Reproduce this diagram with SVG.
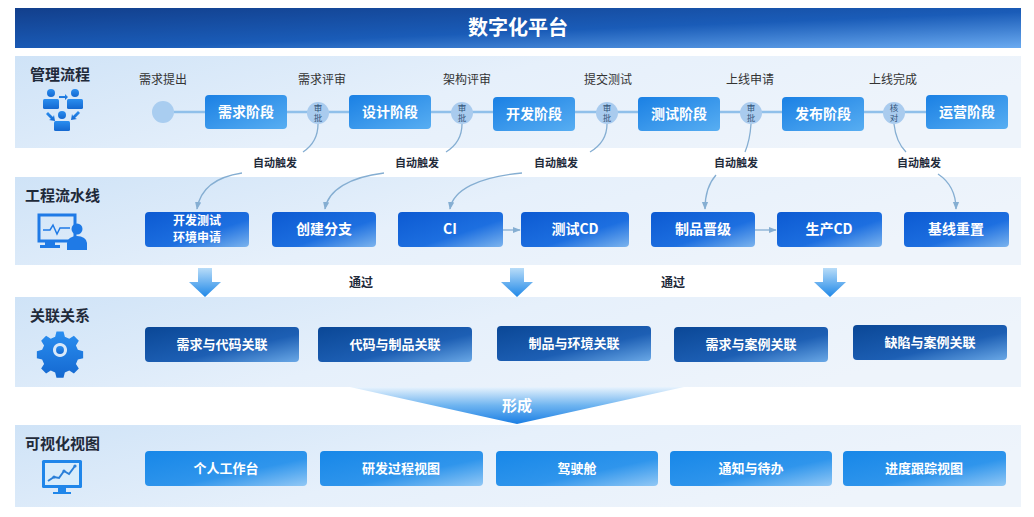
<svg xmlns="http://www.w3.org/2000/svg" width="1034" height="517" viewBox="0 0 1034 517">
<style>
.t{font-family:"Noto Sans CJK SC","Liberation Sans",sans-serif}
.sec{font-size:15px;font-weight:bold;fill:#1f2a3a}
.lbl{font-size:12px;fill:#333;text-anchor:middle}
.bt{font-size:14px;font-weight:bold;fill:#fff;text-anchor:middle}
.bt2{font-size:13px;font-weight:bold;fill:#fff;text-anchor:middle}
.bt3{font-size:12px;font-weight:bold;fill:#fff;text-anchor:middle}
.auto{font-size:11px;font-weight:bold;fill:#1f2a3a;text-anchor:middle}
.ap{font-size:8.5px;fill:#33557a;text-anchor:middle}
.conn{fill:none;stroke:#85aed2;stroke-width:1.3}
.hl{stroke:#90c0ea;stroke-width:2.5}
</style>
<defs>
<linearGradient id="gHead" x1="0" y1="0" x2="1" y2="1">
<stop offset="0" stop-color="#123f8c"/><stop offset="0.55" stop-color="#1a5cb8"/><stop offset="1" stop-color="#6aaaf0"/>
</linearGradient>
<linearGradient id="gBand" x1="0" y1="0" x2="1" y2="0.3">
<stop offset="0" stop-color="#cfe3f7"/><stop offset="0.5" stop-color="#e6f0fb"/><stop offset="1" stop-color="#eef4fb"/>
</linearGradient>
<linearGradient id="gS" x1="0" y1="0" x2="1" y2="1">
<stop offset="0" stop-color="#1a80e4"/><stop offset="1" stop-color="#58aef2"/>
</linearGradient>
<linearGradient id="gE" x1="0" y1="0" x2="1" y2="1">
<stop offset="0" stop-color="#0c5ad2"/><stop offset="0.6" stop-color="#1d6fe0"/><stop offset="1" stop-color="#7cb4ee"/>
</linearGradient>
<linearGradient id="gR" x1="0" y1="0" x2="1" y2="1">
<stop offset="0" stop-color="#0a4796"/><stop offset="0.6" stop-color="#1d5fb4"/><stop offset="1" stop-color="#6aa8e6"/>
</linearGradient>
<linearGradient id="gV" x1="0" y1="0" x2="1" y2="1">
<stop offset="0" stop-color="#1787e8"/><stop offset="0.6" stop-color="#2f95ec"/><stop offset="1" stop-color="#92c8f5"/>
</linearGradient>
<linearGradient id="gArr" x1="0" y1="0" x2="0" y2="1">
<stop offset="0" stop-color="#b8dcf8"/><stop offset="1" stop-color="#1f88e8"/>
</linearGradient>
<linearGradient id="gFun" x1="0" y1="0" x2="0" y2="1">
<stop offset="0" stop-color="#e8f3fd"/><stop offset="0.5" stop-color="#6eb4f0"/><stop offset="1" stop-color="#1a7ee4"/>
</linearGradient>
<linearGradient id="gIcon" x1="0" y1="0" x2="0" y2="1">
<stop offset="0" stop-color="#2a8ef0"/><stop offset="1" stop-color="#1468d0"/>
</linearGradient>
<marker id="ah" viewBox="0 0 10 10" refX="9" refY="5" markerWidth="6" markerHeight="6" orient="auto">
<path d="M0,1 L10,5 L0,9 Z" fill="#85aed2"/>
</marker>
</defs>

<rect width="1034" height="517" fill="#ffffff"/>

<!-- header -->
<g id="header">
<rect x="15" y="8" width="1006" height="40" fill="url(#gHead)"/>
<text class="t" x="518" y="35" font-size="20" font-weight="bold" fill="#fff" text-anchor="middle">数字化平台</text>
</g>

<!-- bands -->
<g id="bands">
<rect x="15" y="56" width="1006" height="92" fill="url(#gBand)"/>
<rect x="15" y="177" width="1006" height="88" fill="url(#gBand)"/>
<rect x="15" y="297" width="1006" height="90" fill="url(#gBand)"/>
<rect x="15" y="425" width="1006" height="82" fill="url(#gBand)"/>
</g>

<!-- section labels and icons -->
<g id="sec-manage">
<text class="t sec" x="30" y="80">管理流程</text>
<g fill="url(#gIcon)">
<circle cx="51" cy="93" r="4"/><rect x="43" y="99" width="16" height="10" rx="1.5"/>
<circle cx="75" cy="93" r="4"/><rect x="67" y="99" width="16" height="10" rx="1.5"/>
<circle cx="62" cy="115" r="4"/><rect x="54" y="121" width="16" height="10" rx="1.5"/>
<path d="M59,96 h6 v-2 l3,3 l-3,3 v-2 h-6 z"/>
<path d="M46,114 l2,-2 l5,5 l1,-2 l1,6 l-6,-1 l2,-1 z"/>
<path d="M80,113 l-2,-2 l-5,5 l-1,-2 l-1,6 l6,-1 l-2,-1 z"/>
</g>
</g>

<g id="sec-pipeline">
<text class="t sec" x="25" y="201">工程流水线</text>
<g>
<rect x="39" y="215" width="36" height="26" fill="none" stroke="#1f7ae6" stroke-width="3"/>
<rect x="45" y="241" width="10" height="5" fill="#1f7ae6"/>
<rect x="40" y="245" width="20" height="3" fill="#1f7ae6"/>
<polyline points="43,230 50,230 53,225 57,234 60,228 70,228" fill="none" stroke="#1f7ae6" stroke-width="1.5"/>
<circle cx="77" cy="229" r="5.5" fill="#1f7ae6"/>
<path d="M67,250 v-7 a10,7 0 0 1 20,0 v7 z" fill="#1f7ae6"/>
</g>
</g>

<g id="sec-relation">
<text class="t sec" x="30" y="321">关联关系</text>
<g transform="translate(60,350) scale(0.88)">
<path fill="url(#gIcon)" fill-rule="evenodd" d="M-4,-21 h8 l1.5,6 l5,2.2 l5.3,-3.3 l5.6,5.6 l-3.3,5.3 l2.2,5 l6,1.5 v8 l-6,1.5 l-2.2,5 l3.3,5.3 l-5.6,5.6 l-5.3,-3.3 l-5,2.2 l-1.5,6 h-8 l-1.5,-6 l-5,-2.2 l-5.3,3.3 l-5.6,-5.6 l3.3,-5.3 l-2.2,-5 l-6,-1.5 v-8 l6,-1.5 l2.2,-5 l-3.3,-5.3 l5.6,-5.6 l5.3,3.3 l5,-2.2 z M0,-8 a8,8 0 1 0 0.01,0 z"/>
<circle r="4.5" fill="url(#gIcon)"/>
</g>
</g>

<g id="sec-visual">
<text class="t sec" x="25" y="449">可视化视图</text>
<g>
<rect x="42" y="460" width="40" height="28" rx="1.5" fill="#1f86ea"/>
<rect x="45" y="463" width="34" height="22" fill="#d8ecfb"/>
<polyline points="48,481 54,477 59,478 64,471 69,474 75,466" fill="none" stroke="#2a7fd8" stroke-width="2"/>
<circle cx="54" cy="477" r="1.6" fill="#2a7fd8"/><circle cx="64" cy="471" r="1.6" fill="#2a7fd8"/><circle cx="75" cy="466" r="1.6" fill="#2a7fd8"/>
<rect x="58" y="488" width="8" height="4" fill="#1f86ea"/>
<rect x="53" y="492" width="18" height="2" fill="#1f86ea"/>
</g>
</g>

<!-- connectors -->
<g id="connectors">
<line class="hl" x1="174" y1="112" x2="205" y2="112"/>
<line class="hl" x1="287" y1="112" x2="349" y2="112"/>
<line class="hl" x1="431" y1="112" x2="493" y2="112"/>
<line class="hl" x1="575" y1="112" x2="638" y2="112"/>
<line class="hl" x1="720" y1="112" x2="782" y2="112"/>
<line class="hl" x1="863" y1="112" x2="926" y2="112"/>

<path class="conn" d="M318,124 Q318,142 303,152"/>
<path class="conn" d="M242,173 C215,177 200,190 197,209" marker-end="url(#ah)"/>
<path class="conn" d="M462,124 Q462,142 446,152"/>
<path class="conn" d="M384,173 C350,177 328,190 325,209" marker-end="url(#ah)"/>
<path class="conn" d="M607,124 Q607,142 590,152"/>
<path class="conn" d="M522,173 C478,177 453,190 450,209" marker-end="url(#ah)"/>
<path class="conn" d="M751,124 Q750,140 745,152"/>
<path class="conn" d="M716,175 C708,184 705,195 705,209" marker-end="url(#ah)"/>
<path class="conn" d="M894,124 Q896,142 906,152"/>
<path class="conn" d="M938,174 C950,182 956,195 956,209" marker-end="url(#ah)"/>

<line class="conn" x1="503" y1="230" x2="520" y2="230" marker-end="url(#ah)"/>
<line class="conn" x1="755" y1="230" x2="776" y2="230" marker-end="url(#ah)"/>

<path d="M198,268 H212 V282 H221 L205,297 L189,282 H198 Z" fill="url(#gArr)"/>
<path d="M510,268 H524 V282 H533 L517,297 L501,282 H510 Z" fill="url(#gArr)"/>
<path d="M823,268 H837 V282 H846 L830,297 L814,282 H823 Z" fill="url(#gArr)"/>
<text class="t" x="361" y="287" font-size="12" font-weight="bold" fill="#1f2a3a" text-anchor="middle">通过</text>
<text class="t" x="673" y="287" font-size="12" font-weight="bold" fill="#1f2a3a" text-anchor="middle">通过</text>

<path d="M350,387 L684,387 L517,424 Z" fill="url(#gFun)"/>
<text class="t" x="517" y="411" font-size="15" font-weight="bold" fill="#fff" text-anchor="middle">形成</text>
</g>

<!-- row 1 -->
<g id="n-start"><circle cx="163" cy="112" r="11" fill="#a9cdf0"/><text class="t lbl" x="163" y="84">需求提出</text></g>
<g id="n-req"><rect x="205" y="95" width="82" height="34" rx="4" fill="url(#gS)"/><text class="t bt" x="246" y="117">需求阶段</text></g>
<g id="n-ap1"><circle cx="318" cy="113" r="11" fill="#a9cbee"/><text class="t ap" x="318" y="111">审</text><text class="t ap" x="318" y="121">批</text><text class="t lbl" x="322" y="84">需求评审</text></g>
<g id="n-design"><rect x="349" y="95" width="82" height="34" rx="4" fill="url(#gS)"/><text class="t bt" x="390" y="117">设计阶段</text></g>
<g id="n-ap2"><circle cx="462" cy="113" r="11" fill="#a9cbee"/><text class="t ap" x="462" y="111">审</text><text class="t ap" x="462" y="121">批</text><text class="t lbl" x="467" y="84">架构评审</text></g>
<g id="n-dev"><rect x="493" y="97" width="82" height="34" rx="4" fill="url(#gS)"/><text class="t bt" x="534" y="119">开发阶段</text></g>
<g id="n-ap3"><circle cx="607" cy="113" r="11" fill="#a9cbee"/><text class="t ap" x="607" y="111">审</text><text class="t ap" x="607" y="121">批</text><text class="t lbl" x="608" y="84">提交测试</text></g>
<g id="n-test"><rect x="638" y="97" width="82" height="34" rx="4" fill="url(#gS)"/><text class="t bt" x="679" y="119">测试阶段</text></g>
<g id="n-ap4"><circle cx="751" cy="113" r="11" fill="#a9cbee"/><text class="t ap" x="751" y="111">审</text><text class="t ap" x="751" y="121">批</text><text class="t lbl" x="750" y="84">上线申请</text></g>
<g id="n-rel"><rect x="782" y="97" width="82" height="34" rx="4" fill="url(#gS)"/><text class="t bt" x="823" y="119">发布阶段</text></g>
<g id="n-ap5"><circle cx="894" cy="113" r="11" fill="#a9cbee"/><text class="t ap" x="894" y="111">核</text><text class="t ap" x="894" y="121">对</text><text class="t lbl" x="893" y="84">上线完成</text></g>
<g id="n-ops"><rect x="926" y="95" width="82" height="34" rx="4" fill="url(#gS)"/><text class="t bt" x="967" y="117">运营阶段</text></g>

<g id="auto-labels">
<text class="t auto" x="275" y="167">自动触发</text>
<text class="t auto" x="417" y="167">自动触发</text>
<text class="t auto" x="556" y="167">自动触发</text>
<text class="t auto" x="736" y="167">自动触发</text>
<text class="t auto" x="919" y="167">自动触发</text>
</g>

<!-- row 2 -->
<g id="n-env"><rect x="145" y="212" width="104" height="35" rx="4" fill="url(#gE)"/><text class="t bt3" x="197" y="225">开发测试</text><text class="t bt3" x="197" y="242">环境申请</text></g>
<g id="n-branch"><rect x="272" y="212" width="104" height="35" rx="4" fill="url(#gE)"/><text class="t bt" x="324" y="234">创建分支</text></g>
<g id="n-ci"><rect x="398" y="212" width="105" height="35" rx="4" fill="url(#gE)"/><text class="t bt" x="450" y="234">CI</text></g>
<g id="n-tcd"><rect x="521" y="212" width="108" height="35" rx="4" fill="url(#gE)"/><text class="t bt" x="575" y="234">测试CD</text></g>
<g id="n-promote"><rect x="651" y="212" width="104" height="35" rx="4" fill="url(#gE)"/><text class="t bt" x="703" y="234">制品晋级</text></g>
<g id="n-pcd"><rect x="777" y="212" width="105" height="35" rx="4" fill="url(#gE)"/><text class="t bt" x="829" y="234">生产CD</text></g>
<g id="n-reset"><rect x="904" y="212" width="105" height="35" rx="4" fill="url(#gE)"/><text class="t bt" x="956" y="234">基线重置</text></g>

<!-- row 3 -->
<g id="n-r1"><rect x="145" y="327" width="154" height="35" rx="4" fill="url(#gR)"/><text class="t bt2" x="222" y="349">需求与代码关联</text></g>
<g id="n-r2"><rect x="318" y="327" width="154" height="35" rx="4" fill="url(#gR)"/><text class="t bt2" x="395" y="349">代码与制品关联</text></g>
<g id="n-r3"><rect x="497" y="326" width="154" height="35" rx="4" fill="url(#gR)"/><text class="t bt2" x="574" y="348">制品与环境关联</text></g>
<g id="n-r4"><rect x="674" y="327" width="154" height="35" rx="4" fill="url(#gR)"/><text class="t bt2" x="751" y="349">需求与案例关联</text></g>
<g id="n-r5"><rect x="853" y="325" width="154" height="35" rx="4" fill="url(#gR)"/><text class="t bt2" x="930" y="347">缺陷与案例关联</text></g>

<!-- row 4 -->
<g id="n-v1"><rect x="145" y="451" width="162" height="35" rx="4" fill="url(#gV)"/><text class="t bt2" x="226" y="473">个人工作台</text></g>
<g id="n-v2"><rect x="320" y="451" width="163" height="35" rx="4" fill="url(#gV)"/><text class="t bt2" x="401" y="473">研发过程视图</text></g>
<g id="n-v3"><rect x="496" y="451" width="162" height="35" rx="4" fill="url(#gV)"/><text class="t bt2" x="577" y="473">驾驶舱</text></g>
<g id="n-v4"><rect x="670" y="451" width="162" height="35" rx="4" fill="url(#gV)"/><text class="t bt2" x="751" y="473">通知与待办</text></g>
<g id="n-v5"><rect x="843" y="451" width="163" height="35" rx="4" fill="url(#gV)"/><text class="t bt2" x="924" y="473">进度跟踪视图</text></g>
</svg>
